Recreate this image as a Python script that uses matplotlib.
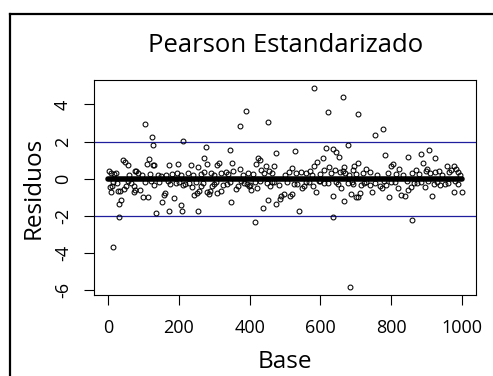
import numpy as np
import matplotlib
matplotlib.use('Agg')
from matplotlib import pyplot as plt
from matplotlib.lines import Line2D

plt.rcParams['font.family'] = ['Open Sans', 'DejaVu Sans']

# residuos de Pearson estandarizados (indice, valor)
obs_x = [13, 104, 124, 128, 213, 32, 135, 374, 391, 453, 581, 621, 663, 706, 755, 776,
         683, 414, 636, 858, 677, 276, 344, 476, 528, 617, 636, 643, 652, 782, 848, 884,
         907, 923, 41, 49, 56, 115, 111, 126, 130, 172, 197, 233, 272, 280, 254, 308,
         313, 349, 372, 423, 428, 419, 445, 469, 582, 591, 607, 624, 610, 666, 664, 695,
         707, 693, 730, 801, 804, 823, 891, 902, 898, 958, 977, 984, 923,
         4, 7, 12, 28, 34, 30, 36, 44, 50, 72, 74, 77, 89, 99, 114, 129, 153, 157, 161,
         173, 174, 187, 192, 207, 210, 213, 229, 238, 242, 251, 253, 258, 262, 279, 285,
         289, 295, 300, 309, 318, 336, 348, 362, 366, 393, 402, 397, 404, 422, 437, 452,
         458, 464, 474, 485, 490, 496, 483, 515, 520, 533, 539, 549, 554, 567, 579, 588,
         600, 621, 635, 650, 659, 666, 677, 687, 693, 701, 707, 712, 715, 724, 739, 746,
         768, 773, 786, 794, 811, 820, 827, 838, 848, 855, 872, 896, 915, 920, 938, 952,
         978, 999, 990,
         3, 9, 18, 21, 60, 75, 79, 84, 95, 118, 140, 150, 165, 180, 195, 205, 225, 240,
         262, 270, 290, 300, 320, 332, 340, 352, 380, 395, 410, 433, 440, 455, 462, 500,
         510, 520, 530, 545, 560, 570, 575, 600, 630, 640, 655, 670, 680, 700, 720, 740,
         760, 790, 815, 835, 860, 870, 880, 910, 935, 945, 965, 970, 988, 995,
         15, 25, 55, 65, 105, 120, 145, 168, 200, 218, 248, 268, 305, 325, 345, 375, 385,
         415, 430, 448, 470, 505, 525, 560, 595, 610, 645, 690, 730, 755, 780, 800, 845,
         865, 885, 905, 930, 960, 982]
obs_y = [-3.66, 2.96, 2.22, 1.83, 2.03, -2.04, -1.85, 2.83, 3.64, 3.03, 4.90, 3.59, 4.39,
         3.46, 2.33, 2.65, -5.85, -2.35, -2.04, -2.22, 1.83, 1.70, 1.52, 1.40, 1.47, 1.67,
         1.60, 1.42, 1.17, 1.27, 1.17, 1.33, 1.52, 1.09, 1.02, 0.90, 0.72, 1.06, 0.77, 0.74,
         0.74, 0.72, 0.79, 0.72, 1.09, 0.79, 0.61, 0.74, 0.84, 0.83, 0.52, 1.09, 1.00, 0.79,
         0.66, 0.66, 0.68, 0.91, 1.09, 0.63, 0.48, 0.65, 0.40, 0.70, 0.83, 0.47, 0.52, 0.68,
         0.81, 0.50, 0.86, 0.52, 0.41, 0.66, 0.66, 0.52, 0.36,
         -0.47, -0.72, -0.38, -0.68, -0.65, -1.35, -1.17, -0.57, -0.41, -0.39, -0.74, -0.59,
         -0.63, -1.00, -0.99, -0.34, -1.24, -0.88, -0.79, -1.74, -0.29, -1.04, -0.23, -1.40,
         -1.72, -0.34, -0.25, -0.43, -0.88, -0.79, -1.74, -0.66, -0.39, -0.72, -0.84, -0.66,
         -0.41, -0.29, -0.75, -0.68, -0.29, -1.24, -0.54, -0.41, -0.27, -0.32, -0.41, -0.59,
         -0.50, -1.56, -1.17, -0.41, -0.20, -1.38, -1.11, -0.91, -0.84, -0.32, -0.95, -0.84,
         -0.27, -1.74, -0.50, -0.39, -0.20, -0.39, -0.74, -0.11, -0.23, -0.93, -0.30, -0.52,
         -1.18, -0.25, -0.81, -0.30, -0.97, -0.97, -0.79, -0.34, -0.25, -0.32, -0.74, -0.38,
         -0.50, -0.34, -0.97, -0.16, -0.48, -0.90, -0.93, -0.59, -0.45, -0.23, -0.43, -0.91,
         -0.30, -0.32, -0.27, -0.72, -0.72, -0.27,
         0.43, 0.30, 0.25, 0.32, 0.22, 0.43, 0.40, 0.30, 0.20, 0.25, 0.20, 0.15, 0.20, 0.25,
         0.30, 0.20, 0.30, 0.18, 0.25, 0.35, 0.30, 0.20, 0.30, 0.35, 0.25, 0.40, 0.20, 0.30,
         0.25, 0.45, 0.30, 0.40, 0.30, 0.20, 0.35, 0.55, 0.30, 0.35, 0.30, 0.40, 0.20, 0.25,
         0.30, 0.45, 0.35, 0.30, 0.20, 0.25, 0.30, 0.35, 0.20, 0.30, 0.25, 0.20, 0.30, 0.45,
         0.25, 0.30, 0.40, 0.20, 0.35, 0.45, 0.35, 0.20,
         -0.20, -0.25, -0.15, -0.22, -0.20, -0.15, -0.20, -0.15, -0.18, -0.30, -0.20, -0.25,
         -0.20, -0.35, -0.20, -0.15, -0.25, -0.20, -0.15, -0.25, -0.20, -0.20, -0.30, -0.20,
         -0.15, -0.25, -0.20, -0.20, -0.20, -0.25, -0.15, -0.20, -0.15, -0.25, -0.20, -0.15,
         -0.20, -0.25, -0.15]

# la mayoria de los residuos cae practicamente sobre cero
banda_x = [1, 1000]
banda_y = [0.0, 0.0]

limites = [-2, 2]
yticks = [-6, -4, -2, 0, 2, 4]
xticks = [0, 200, 400, 600, 800, 1000]

fig = plt.figure(figsize=(4.93, 3.76), dpi=100)
ax = fig.add_axes([0.1913, 0.2146, 0.7742, 0.5734])

ax.plot(banda_x, banda_y, color='black', lw=4.0, solid_capstyle='round', zorder=2)
ax.plot(obs_x, obs_y, 'o', ms=3.5, mfc='none', mec='black', mew=0.75, zorder=3)
for h in limites:
    ax.axhline(h, color='#1f1f9e', lw=0.9, zorder=1)

# rango con 4% extra como en R
xall = obs_x + banda_x
yall = obs_y + banda_y
xr = max(xall) - min(xall)
yr = max(yall) - min(yall)
ax.set_xlim(min(xall) - 0.04 * xr, max(xall) + 0.04 * xr)
ax.set_ylim(min(yall) - 0.04 * yr, max(yall) + 0.04 * yr)

ax.set_xticks(xticks)
ax.set_yticks(yticks)
ax.set_yticklabels([str(t) for t in yticks], rotation=90, va='center')
ax.tick_params(direction='out', length=7.2, width=0.8, labelsize=13, colors='black')
ax.tick_params(axis='x', pad=10)
ax.tick_params(axis='y', pad=9)
for s in ax.spines.values():
    s.set_linewidth(0.8)

ax.set_title('Pearson Estandarizado', fontsize=18.5, pad=20)
ax.set_xlabel('Base', fontsize=17.5, labelpad=9)
ax.set_ylabel('Residuos', fontsize=17.5, labelpad=6)

# marco exterior
fig.add_artist(Line2D([10 / 493, 492 / 493], [1 - 14 / 376, 1 - 14 / 376], color='black', lw=1.6))
fig.add_artist(Line2D([10 / 493, 10 / 493], [0, 1 - 14 / 376], color='black', lw=1.6))

plt.savefig('out.png', dpi=100)
